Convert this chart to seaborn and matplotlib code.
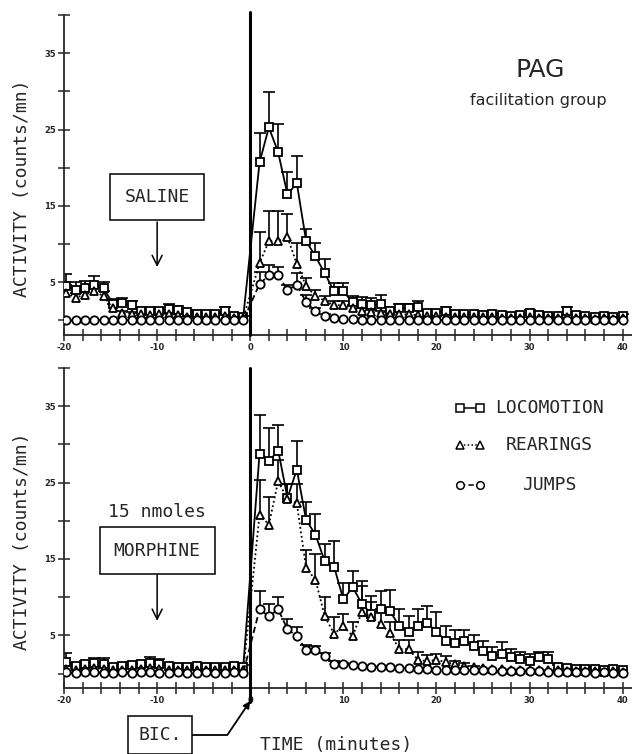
import numpy as np
import pandas as pd
import seaborn as sns
from matplotlib import pyplot as plt

# time bins (minutes), 20 before the BIC injection and 40 after
TIME_PRE = np.arange(-19.75, 0, 1.0)
TIME_POST = np.arange(1, 41, 1.0)
TIME = np.concatenate([TIME_PRE, TIME_POST])

MEASURES = ["LOCOMOTION", "REARINGS", "JUMPS"]

# SALINE (top panel)
SAL_LOCO = [4.5, 4.0, 4.3, 4.6, 4.2, 2.2, 2.3, 2.0, 1.3, 1.2, 1.3, 1.5, 1.4, 1.1, 0.9, 0.8, 0.9, 1.2, 0.6, 0.5,
            20.7, 25.3, 22.0, 16.5, 18.0, 10.4, 8.4, 6.2, 3.8, 3.8, 2.4, 2.1, 2.0, 2.2, 1.3, 1.6, 1.6, 1.8, 1.0, 1.0,
            1.2, 0.9, 0.8, 0.8, 0.7, 0.8, 0.7, 0.6, 0.7, 1.0, 0.7, 0.6, 0.6, 1.2, 0.7, 0.6, 0.5, 0.6, 0.5, 0.6]
SAL_LOCO_ERR = [1.6, 1.0, 0.9, 1.2, 0.9, 0.6, 0.7, 0.6, 0.4, 0.3, 0.4, 0.6, 0.5, 0.3, 0.2, 0.2, 0.2, 0.6, 0.2, 0.1,
                3.9, 4.6, 3.7, 2.9, 3.5, 1.6, 1.7, 1.8, 1.1, 1.1, 0.8, 1.0, 1.0, 1.1, 0.5, 0.6, 0.6, 0.7, 0.3, 0.3,
                0.6, 0.3, 0.2, 0.2, 0.2, 0.2, 0.2, 0.2, 0.2, 0.4, 0.2, 0.2, 0.2, 0.6, 0.2, 0.2, 0.0, 0.2, 0.0, 0.2]
SAL_REAR = [3.6, 3.0, 3.4, 3.8, 3.2, 1.6, 1.0, 0.9, 0.8, 0.7, 0.8, 0.9, 0.7, 0.5, 0.5, 0.4, 0.5, 0.6, 0.3, 0.3,
            7.5, 10.4, 10.4, 10.9, 7.4, 4.5, 3.2, 2.6, 2.0, 2.0, 1.6, 1.3, 1.1, 1.0, 0.9, 0.8, 0.8, 0.7, 0.6, 0.6,
            0.5, 0.5, 0.5, 0.4, 0.4, 0.4, 0.3, 0.3, 0.3, 0.4, 0.3, 0.3, 0.3, 0.4, 0.3, 0.3, 0.2, 0.3, 0.2, 0.3]
SAL_REAR_ERR = [1.0, 0.6, 0.8, 0.9, 0.7, 0.5, 0.3, 0.2, 0.2, 0.2, 0.2, 0.2, 0.2, 0.0, 0.0, 0.0, 0.0, 0.2, 0.0, 0.0,
                4.1, 4.0, 4.0, 3.1, 2.8, 1.0, 0.8, 0.6, 0.5, 0.5, 0.4, 0.3, 0.3, 0.2, 0.2, 0.0, 0.0, 0.0, 0.0, 0.0,
                0.0, 0.0, 0.0, 0.0, 0.0, 0.0, 0.0, 0.0, 0.0, 0.0, 0.0, 0.0, 0.0, 0.0, 0.0, 0.0, 0.0, 0.0, 0.0, 0.0]
SAL_JUMP = [0.0, 0.0, 0.1, 0.0, 0.1, 0.0, 0.1, 0.0, 0.1, 0.0, 0.1, 0.0, 0.0, 0.1, 0.0, 0.0, 0.1, 0.0, 0.0, 0.0,
            4.8, 5.9, 5.9, 4.0, 4.7, 2.4, 1.3, 0.6, 0.3, 0.2, 0.2, 0.1, 0.1, 0.1, 0.1, 0.0, 0.1, 0.0, 0.0, 0.1,
            0.0, 0.0, 0.1, 0.0, 0.0, 0.0, 0.1, 0.0, 0.0, 0.0, 0.0, 0.1, 0.0, 0.0, 0.0, 0.0, 0.0, 0.1, 0.0, 0.0]
SAL_JUMP_ERR = [0.0] * 20 + [1.5, 1.4, 1.1, 0.6, 1.5, 1.0, 0.4, 0.2] + [0.0] * 32

# MORPHINE 15 nmoles (bottom panel)
MOR_LOCO = [1.5, 1.0, 1.2, 1.4, 1.3, 0.9, 1.0, 1.1, 1.2, 1.4, 1.3, 1.0, 0.9, 0.8, 1.0, 0.9, 0.8, 0.9, 1.0, 0.9,
            28.8, 27.8, 29.2, 23.0, 26.7, 20.1, 18.2, 14.7, 14.0, 9.7, 11.3, 9.1, 7.8, 8.4, 8.2, 6.2, 5.5, 6.2, 6.6, 5.5,
            4.3, 4.0, 4.2, 3.6, 2.9, 2.3, 2.6, 2.2, 1.9, 1.7, 2.2, 1.9, 0.8, 0.7, 0.6, 0.6, 0.6, 0.5, 0.6, 0.5]
MOR_LOCO_ERR = [1.2, 0.4, 0.5, 0.6, 0.7, 0.3, 0.3, 0.4, 0.5, 0.7, 0.6, 0.3, 0.3, 0.2, 0.3, 0.2, 0.2, 0.3, 0.3, 0.2,
                5.0, 4.3, 3.3, 1.8, 3.8, 2.4, 2.7, 2.3, 3.3, 2.2, 2.1, 3.0, 2.3, 2.4, 2.7, 2.2, 2.0, 2.2, 2.2, 2.6,
                1.9, 1.7, 1.5, 1.4, 1.4, 1.2, 1.5, 1.0, 0.9, 0.9, 0.6, 0.9, 0.3, 0.2, 0.2, 0.2, 0.0, 0.0, 0.0, 0.0]
MOR_REAR = [0.6, 0.5, 0.6, 0.7, 0.6, 0.4, 0.5, 0.5, 0.6, 0.7, 0.6, 0.5, 0.4, 0.4, 0.5, 0.4, 0.4, 0.5, 0.5, 0.4,
            20.8, 19.5, 25.2, 22.8, 22.3, 13.8, 12.3, 7.5, 5.2, 6.2, 4.9, 8.1, 7.4, 6.5, 5.3, 3.2, 3.2, 1.8, 1.6, 1.8,
            1.5, 1.2, 1.0, 0.8, 0.7, 0.6, 0.6, 0.5, 0.5, 0.5, 0.4, 0.4, 0.4, 0.3, 0.3, 0.3, 0.3, 0.2, 0.3, 0.2]
MOR_REAR_ERR = [0.4, 0.2, 0.2, 0.3, 0.2, 0.0, 0.2, 0.0, 0.2, 0.3, 0.2, 0.0, 0.0, 0.0, 0.2, 0.0, 0.0, 0.0, 0.2, 0.0,
                4.5, 3.6, 2.8, 2.0, 2.5, 2.4, 3.3, 2.5, 2.2, 1.6, 1.9, 3.3, 2.0, 2.0, 1.5, 1.2, 1.2, 1.0, 0.8, 0.8,
                0.8, 0.5, 0.4, 0.2, 0.0, 0.0, 0.0, 0.0, 0.0, 0.0, 0.0, 0.0, 0.0, 0.0, 0.0, 0.0, 0.0, 0.0, 0.0, 0.0]
MOR_JUMP = [0.2, 0.1, 0.2, 0.2, 0.1, 0.1, 0.2, 0.1, 0.2, 0.2, 0.1, 0.1, 0.2, 0.1, 0.1, 0.2, 0.1, 0.1, 0.2, 0.1,
            8.4, 7.5, 8.4, 5.8, 4.9, 3.1, 3.1, 2.3, 1.3, 1.2, 1.1, 1.0, 0.9, 0.9, 0.9, 0.7, 0.7, 0.6, 0.6, 0.5,
            0.5, 0.5, 0.5, 0.4, 0.4, 0.4, 0.3, 0.3, 0.3, 0.3, 0.3, 0.2, 0.2, 0.2, 0.2, 0.2, 0.1, 0.2, 0.1, 0.1]
MOR_JUMP_ERR = [0.0] * 20 + [2.4, 1.6, 1.6, 1.3, 1.2, 0.6, 0.5, 0.4, 0.3, 0.2] + [0.0] * 30

MARKERS = {"LOCOMOTION": "s", "REARINGS": "^", "JUMPS": "o"}
DASHES = {"LOCOMOTION": "", "REARINGS": (1, 1.5), "JUMPS": (3.5, 2)}


def draw_panel(ax, series, errors):
    df = pd.DataFrame({
        "time": np.tile(TIME, len(MEASURES)),
        "activity": np.concatenate(series),
        "measure": np.repeat(MEASURES, len(TIME)),
    })
    sns.lineplot(data=df, x="time", y="activity", style="measure", style_order=MEASURES,
                 markers=MARKERS, dashes=DASHES, color="black", markerfacecolor="white",
                 markeredgecolor="black", markeredgewidth=1.3, markersize=6, linewidth=1.3,
                 legend=False, errorbar=None, ax=ax, zorder=3)
    for vals, err in zip(series, errors):
        err = np.asarray(err)
        keep = err > 0
        eb = ax.errorbar(TIME[keep], np.asarray(vals)[keep], yerr=[np.zeros(keep.sum()), err[keep]],
                         fmt="none", ecolor="black", elinewidth=1.2, capsize=4, capthick=1.2, zorder=2)
        eb[1][0].set_visible(False)

    ax.set_xlim(-20, 41)
    ax.set_ylim(-1.9, 40)
    ax.set_xticks(np.arange(-20, 41, 2))
    ax.set_xticklabels([str(t) if t % 10 == 0 else "" for t in range(-20, 41, 2)])
    ax.set_yticks(np.arange(0, 41, 5))
    ax.set_yticklabels([str(v) if v % 10 == 5 else "" for v in range(0, 41, 5)])
    ax.tick_params(direction="inout", length=8, width=1.1, labelsize=6, pad=2)
    for lab in ax.get_xticklabels() + ax.get_yticklabels():
        lab.set_fontweight("bold")
        lab.set_family("DejaVu Sans")
    sns.despine(ax=ax)
    for s in ("left", "bottom"):
        ax.spines[s].set_linewidth(1.3)
    ax.set_xlabel("")
    ax.set_ylabel("ACTIVITY (counts/mn)", fontsize=13)
    ax.yaxis.set_label_coords(-0.058, 0.46)


sns.set_style("ticks")
plt.rcParams["font.family"] = ["DejaVu Sans Mono", "DejaVu Sans"]

fig = plt.figure(figsize=(6.32, 7.54), dpi=100)
ax1 = fig.add_axes([0.1013, 0.5557, 0.8987, 0.4244])
ax2 = fig.add_axes([0.1013, 0.0875, 0.8987, 0.4244])

draw_panel(ax1, [SAL_LOCO, SAL_REAR, SAL_JUMP], [SAL_LOCO_ERR, SAL_REAR_ERR, SAL_JUMP_ERR])
draw_panel(ax2, [MOR_LOCO, MOR_REAR, MOR_JUMP], [MOR_LOCO_ERR, MOR_REAR_ERR, MOR_JUMP_ERR])

# injection time marker
ax1.axvline(0, ymin=0, ymax=1.01, color="black", lw=2.2, clip_on=False, zorder=4)
ax2.axvline(0, ymin=-0.045, ymax=1.0, color="black", lw=2.2, clip_on=False, zorder=4)

arrow = dict(arrowstyle="->", color="black", lw=1.1, mutation_scale=18, shrinkA=0, shrinkB=0)
box = dict(boxstyle="square,pad=0.78", fc="white", ec="black", lw=1.1)
ax1.text(-10, 16.2, "SALINE", fontsize=13, ha="center", va="center", bbox=box)
ax1.annotate("", xy=(-10, 7.0), xytext=(-10, 12.9), arrowprops=arrow)
ax2.text(-10, 21.2, "15 nmoles", fontsize=13, ha="center", va="center")
ax2.text(-10, 16.1, "MORPHINE", fontsize=13, ha="center", va="center", bbox=box)
ax2.annotate("", xy=(-10, 6.9), xytext=(-10, 12.9), arrowprops=arrow)

ax2.annotate("BIC.", xy=(0, -3.6), xycoords="data", xytext=(160 / 632, 1 - 735 / 754),
             textcoords="figure fraction", fontsize=13, ha="center", va="center",
             bbox=dict(boxstyle="square,pad=0.55", fc="white", ec="black", lw=1.1),
             arrowprops=dict(arrowstyle="-|>", color="black", lw=1.3, mutation_scale=10,
                             shrinkA=0, shrinkB=0, fc="black",
                             connectionstyle="angle,angleA=0,angleB=56,rad=0"),
             annotation_clip=False)

fig.text(336 / 632, 1 - 745 / 754, "TIME (minutes)", fontsize=13, ha="center", va="center")
fig.text(540 / 632, 1 - 70 / 754, "PAG", fontsize=18, family="DejaVu Sans", ha="center", va="center")
fig.text(470 / 632, 1 - 100 / 754, "facilitation group", fontsize=11.5, family="DejaVu Sans",
         ha="left", va="center")

# legend drawn as a small key in the lower panel
key_y = [0.875, 0.759, 0.634]
for name, ky in zip(MEASURES, key_y):
    dash = DASHES[name]
    ax2.plot([0.697, 0.732], [ky, ky], transform=ax2.transAxes, color="black", lw=1.1,
             linestyle="-" if dash == "" else (0, dash), marker=MARKERS[name], markersize=5.5,
             markerfacecolor="white", markeredgewidth=1.1)
    ax2.text(0.854, ky, name, transform=ax2.transAxes, fontsize=13, ha="center", va="center")

fig.savefig("out.png", dpi=100)
